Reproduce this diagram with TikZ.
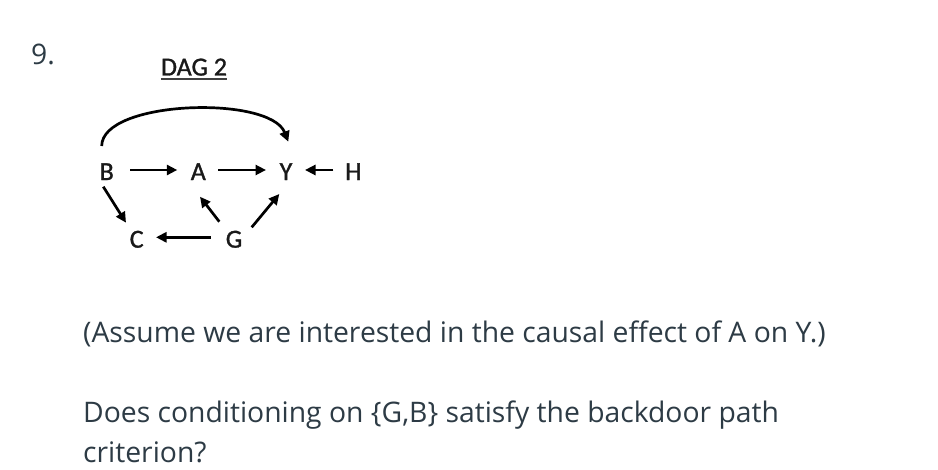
\documentclass[tikz,border=0pt]{standalone}
\usepackage{fontspec}
\setmainfont{Open Sans}
\newfontfamily\dagfont[FakeBold=1.2]{Carlito}
\usetikzlibrary{arrows.meta}
\definecolor{txt}{RGB}{45,59,69}
\begin{document}
\begin{tikzpicture}[x=1pt,y=1pt,
  var/.style={font=\dagfont\fontsize{26}{26}\selectfont, inner sep=0pt, text=black!90},
  arr/.style={line width=2.7pt, -{Triangle[length=10.5pt,width=10pt]}},
  body/.style={font=\fontsize{28.3}{40}\selectfont, text=txt, anchor=base west, inner sep=0pt}]
\useasboundingbox (0,0) rectangle (938,-470);
\fill[white] (0,0) rectangle (938,-470);
% question number
\node[body] (num) at (31,-65) {9.};
% title
\node[var, anchor=base] (title) at (194,-75.5) {DAG 2};
\draw[line width=1.8pt, black!75] ([yshift=-3.5pt]title.south west) -- ([yshift=-3.5pt]title.south east);
% variables
\node[var] (B) at (106.7,-171.7) {B};
\node[var] (A) at (198.3,-171.7) {A};
\node[var] (Y) at (286,-171.7) {Y};
\node[var] (H) at (353.3,-171.7) {H};
\node[var] (C) at (136.7,-239.3) {C};
\node[var] (G) at (234,-239.3) {G};
% edges
\draw[arr] ([xshift=23.3pt,yshift=1.7pt]B.center) -- ([xshift=-21pt,yshift=1.7pt]A.center);
\draw[arr] ([xshift=20pt,yshift=1.7pt]A.center) -- ([xshift=-20pt,yshift=1.7pt]Y.center);
\draw[arr] ([xshift=-20pt,yshift=1.7pt]H.center) -- ([xshift=19pt,yshift=1.7pt]Y.center);
\draw[arr] ([xshift=-3.4pt,yshift=-15pt]B.center) -- ([xshift=-10.7pt,yshift=16.6pt]C.center);
\draw[arr] ([xshift=-14.7pt,yshift=17.6pt]G.center) -- ([xshift=1.7pt,yshift=-25pt]A.center);
\draw[arr] ([xshift=17.7pt,yshift=12pt]G.center) -- ([xshift=-6.7pt,yshift=-22.3pt]Y.center);
\draw[arr] ([xshift=-23.3pt,yshift=2pt]G.center) -- ([xshift=19.3pt,yshift=2pt]C.center);
\draw[arr] ([xshift=-5pt,yshift=25.7pt]B.center) .. controls (102,-100) and (270,-95) .. ([xshift=2.3pt,yshift=30pt]Y.center);
% text
\node[body] (q1) at (83,-342.3) {(Assume we are interested in the causal effect of A on Y.)};
\node[body] (q2) at (83,-422.7) {Does conditioning on \{G,B\} satisfy the backdoor path};
\node[body] (q3) at (83,-462.7) {criterion?};
\end{tikzpicture}
\end{document}
